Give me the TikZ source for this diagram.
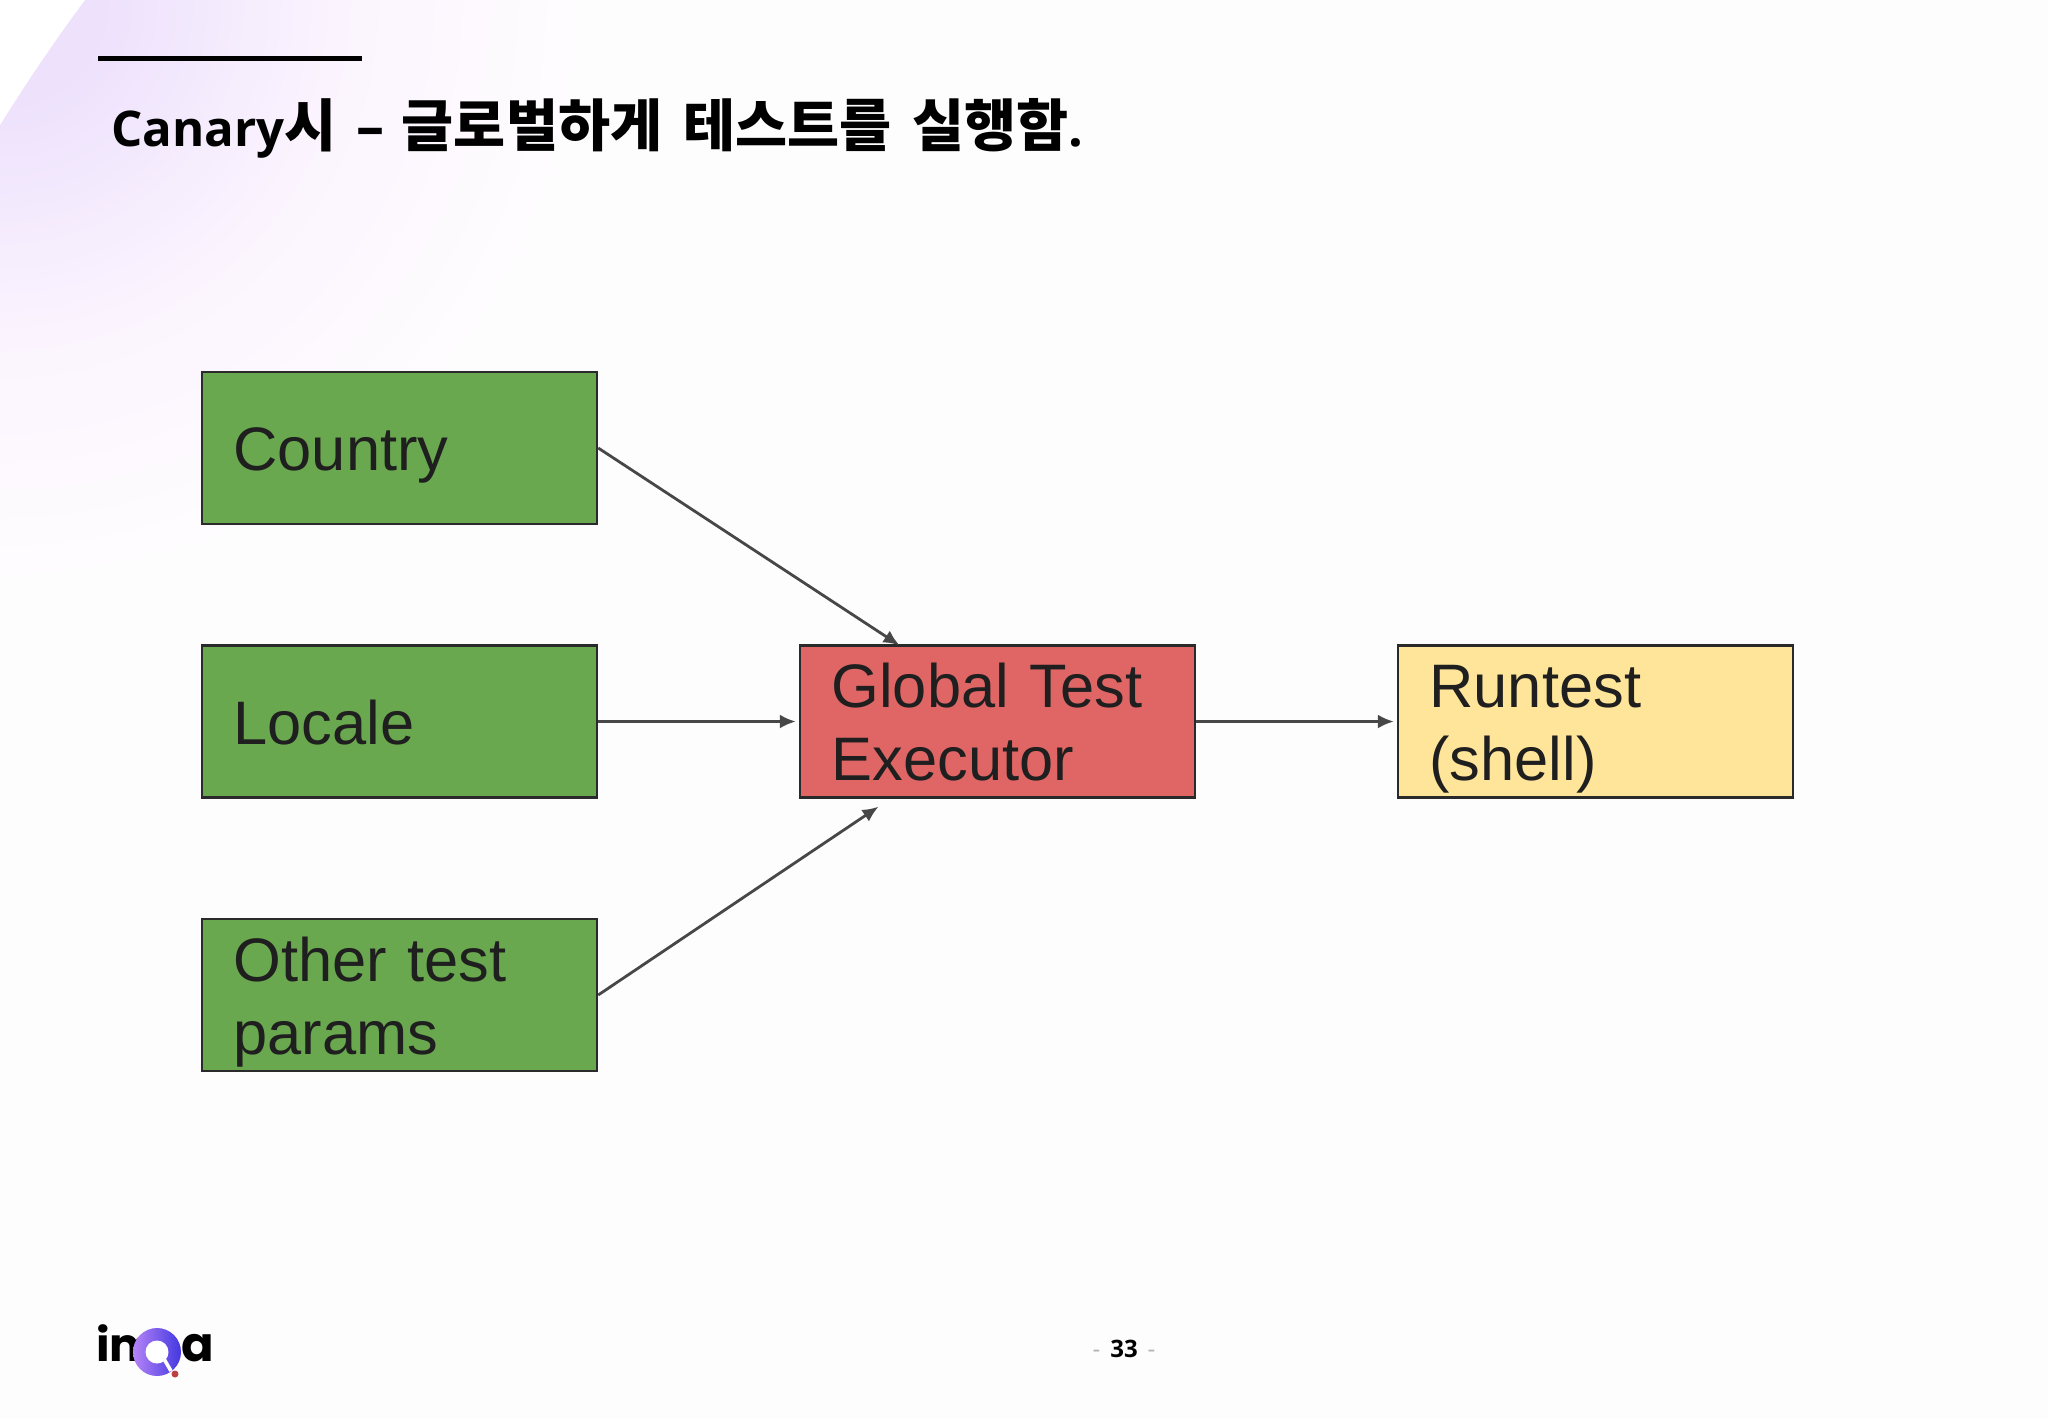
\documentclass[tikz,border=0pt]{standalone}
\usepackage{fontspec}
\usepackage{tikz}
\usetikzlibrary{arrows.meta}
\newfontfamily\titlefont{Noto Sans CJK KR}
\newfontfamily\latinfont{Open Sans}
\newfontfamily\boxfont{Liberation Sans}
\newfontfamily\logofont{Poppins}
\definecolor{pagebg}{HTML}{FEFDFE}
\definecolor{lavender}{HTML}{EDE1FC}
\definecolor{lavenderlow}{HTML}{F3E9FD}
\definecolor{lavenderpale}{HTML}{FBF4FE}
\definecolor{boxgreen}{HTML}{6AA84F}
\definecolor{boxred}{HTML}{E06666}
\definecolor{boxyellow}{HTML}{FFE599}
\definecolor{boxline}{HTML}{2A2A2A}
\definecolor{logolight}{HTML}{B584F7}
\definecolor{logodark}{HTML}{4338E0}
\pgfdeclareradialshading{corner}{\pgfpointorigin}{color(0bp)=(lavender); color(1.2bp)=(lavender); color(2.4bp)=(lavenderlow); color(4bp)=(lavenderpale); color(7bp)=(pagebg); color(50bp)=(pagebg)}
\newcommand{\blocktop}{\rule{0pt}{30pt}}
\newcommand{\blockend}{\rule[-7.2pt]{0pt}{7.2pt}}
\tikzstyle{block}=[rectangle,draw=boxline,line width=1.3pt,minimum width=197.4pt,minimum height=76pt,inner xsep=15pt,inner ysep=0pt,text width=166pt,align=left,text=black!88,font=\boxfont\fontsize{30.7}{36.5}\selectfont,execute at begin node=\blocktop,execute at end node=\blockend]
\tikzstyle{edge} = [draw=black!72,line width=1.4pt,-{Latex[length=8pt,width=7pt]}]

\begin{document}
\begin{tikzpicture}[x=0.5pt,y=-0.5pt]
	\useasboundingbox (0,0) rectangle (2048,1418);
	\shade[shading=corner] (-2100,-2100) rectangle (2100,2100);
	\fill[white] (0,0) -- (85,0) .. controls (55,40) and (25,85) .. (0,125) -- cycle;
	
	\fill[black] (98,56) rectangle (362,61.5);
	\node[anchor=base west,inner sep=0pt,font=\titlefont\bfseries\fontsize{28.3}{30}\selectfont] (title) at (111,146) {{\latinfont\fontsize{24.6}{30}\selectfont Canary}시\hspace{10pt}{\latinfont\fontsize{28}{30}\selectfont –}\hspace{8.5pt}글로벌하게\hspace{10.5pt}테스트를\hspace{10.5pt}실행함{\latinfont\fontsize{26}{30}\selectfont .}};
	
	\foreach \pos/\name/\txt/\col in {{(399.5,448)/country/Country/boxgreen},{(399.5,721.5)/locale/Locale/boxgreen},{(399.5,995)/params/Other test\\params/boxgreen},{(997.5,721.5)/executor/Global Test\\Executor/boxred},{(1595.5,721.5)/runtest/Runtest\\(shell)/boxyellow}}
	\node[block,fill=\col] (\name) at \pos {\txt};
	
	\path (902,647) coordinate (topin);
	\path (881,805) coordinate (lowin);
	\foreach \source/\dest in {country.east/topin,locale.east/executor.west,params.east/lowin,executor.east/runtest.west}
	\path[edge,shorten >=1.5pt] (\source) -- (\dest);
	
	\node[anchor=base west,inner sep=0pt,font=\logofont\bfseries\fontsize{23}{24}\selectfont] (logoim) at (96,1361) {im};
	\node[anchor=base west,inner sep=0pt,font=\logofont\bfseries\fontsize{24}{25}\selectfont] (logoa) at (181,1361) {a};
	\shade[shading angle=120,left color=logolight,right color=logodark] (157,1352) circle (24);
	\fill[white] (157,1352) circle (11.5);
	\draw[white,line width=1.8pt] (160,1352) -- (171,1371);
	\fill[red!65!black!75] (175,1374) circle (3.5);
	
	\node[inner sep=0pt,font=\latinfont\fontsize{12}{14}\selectfont] (pagenum) at (1124,1349) {\textcolor{black!30}{-}\hspace{5pt}\textbf{33}\hspace{5pt}\textcolor{black!30}{-}};
\end{tikzpicture}
\end{document}
